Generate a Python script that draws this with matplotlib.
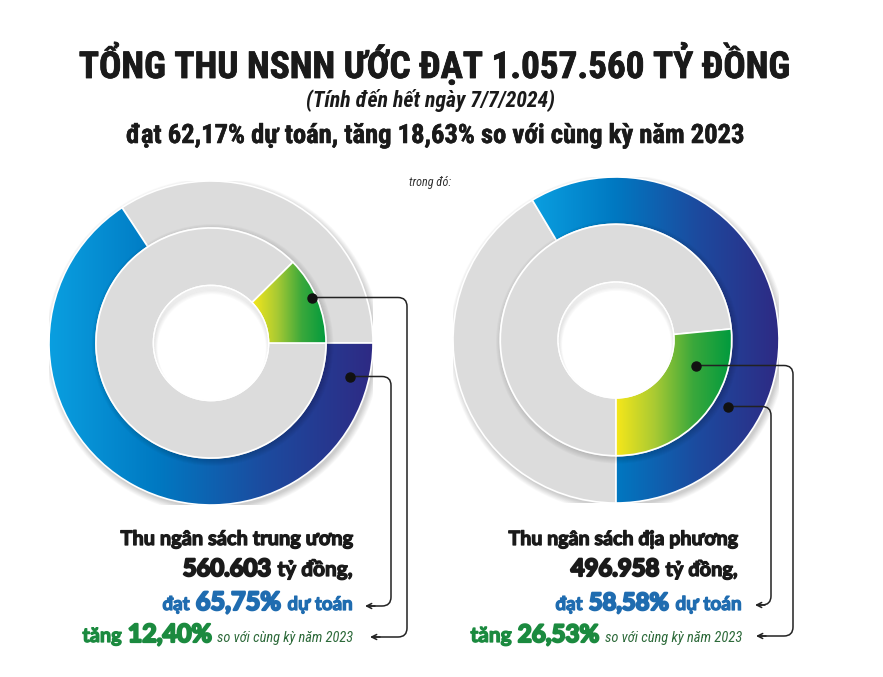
import numpy as np
import matplotlib
matplotlib.use("Agg")
import matplotlib.pyplot as plt
from matplotlib import font_manager
from matplotlib import patheffects as pe
from matplotlib.colors import LinearSegmentedColormap
from matplotlib.patches import Circle, Wedge
from matplotlib.path import Path
from matplotlib.patches import PathPatch

# ---------------- data ----------------
title = "TỔNG THU NSNN ƯỚC ĐẠT 1.057.560 TỶ ĐỒNG"
subtitle = "(Tính đến hết ngày 7/7/2024)"
summary = "đạt 62,17% dự toán, tăng 18,63% so với cùng kỳ năm 2023"
note = "trong đó:"

names = ["Thu ngân sách trung ương", "Thu ngân sách địa phương"]
amounts = ["560.603", "496.958"]
pct_plan = [65.75, 58.58]      # % of estimate (outer ring)
pct_growth = [12.40, 26.53]    # % growth vs 2023 (inner ring)

def vn(x):
    return f"{x:.2f}".replace(".", ",") + "%"

# ---------------- fonts ----------------
def pick(cands):
    for c in cands:
        try:
            font_manager.findfont(font_manager.FontProperties(family=c), fallback_to_default=False)
            return c
        except Exception:
            pass
    return "DejaVu Sans"

COND = pick(["Liberation Sans Narrow", "Roboto Condensed", "Open Sans Condensed", "Roboto", "Liberation Sans"])
ROUND = pick(["Lato", "Open Sans", "Noto Sans"])

W, H = 883, 677
fig = plt.figure(figsize=(W / 100, H / 100), dpi=100)
fig.patch.set_facecolor("white")

GRAY = "#dcdcdc"
blue_cmap = LinearSegmentedColormap.from_list("b", ["#0a9fe0", "#0079c2", "#1c4b9f", "#2e2a84"])
green_cmap = LinearSegmentedColormap.from_list("g", ["#f6e71a", "#a9ca33", "#3aa83b", "#009a3e"])

R_OUT, R_MID, R_HOLE = 1.0, 0.71, 0.355

def grad_fill(ax, wedge, cmap, z):
    ext = wedge.get_path().get_extents()
    grad = np.linspace(0, 1, 256).reshape(1, -1)
    im = ax.imshow(grad, cmap=cmap, extent=[ext.x0, ext.x1, ext.y0, ext.y1],
                   aspect="auto", zorder=z, interpolation="bilinear")
    im.set_clip_path(wedge)
    wedge.set_facecolor("none")
    wedge.set_zorder(z + 0.1)

def donut(cx, cy, r, plan, growth, start_out, cw_out, start_in):
    ax = fig.add_axes([(cx - r) / W, 1 - (cy + r) / H, 2 * r / W, 2 * r / H])
    ax.set_xlim(-1.0, 1.0)
    ax.set_ylim(-1.0, 1.0)
    ax.axis("off")
    # soft drop shadow behind outer ring
    for i in range(10):
        ax.add_patch(Circle((0.012, -0.018), R_OUT + 0.004 * i, color="black",
                            alpha=0.018, lw=0, zorder=0))
    wo, _ = ax.pie([plan, 100 - plan], radius=R_OUT, startangle=start_out,
                   counterclock=not cw_out, colors=["#0079c2", GRAY],
                   wedgeprops=dict(width=R_OUT - R_MID, edgecolor="white", linewidth=1.2))
    for w in wo:
        w.set_zorder(1)
    grad_fill(ax, wo[0], blue_cmap, 1)
    # shadow of inner ring on outer ring
    for i in range(7):
        ax.add_patch(Wedge((0.01, -0.012), R_MID + 0.006 * i, 0, 360, width=0.006 * i + 0.02,
                           color="black", alpha=0.025, lw=0, zorder=2))
    wi, _ = ax.pie([growth, 100 - growth], radius=R_MID, startangle=start_in,
                   counterclock=True, colors=["#3aa83b", GRAY],
                   wedgeprops=dict(width=R_MID - R_HOLE, edgecolor="white", linewidth=1.2))
    for w in wi:
        w.set_zorder(3)
    grad_fill(ax, wi[0], green_cmap, 3)
    # white hole with faint inner shadow
    hole = Circle((0, 0), R_HOLE, facecolor="white", edgecolor="white", lw=1.2, zorder=4)
    ax.add_patch(hole)
    clip = Circle((0, 0), R_HOLE - 0.004, transform=ax.transData)
    for i in range(8):
        sh = Circle((0.004, -0.012 - 0.003 * i), R_HOLE + 0.02 - 0.004 * i, facecolor="none",
                    edgecolor="black", lw=3.0, alpha=0.02, zorder=4.5)
        ax.add_patch(sh)
        sh.set_clip_path(clip)
    ax.set_xlim(-1.0, 1.0)
    ax.set_ylim(-1.0, 1.0)
    ax.set_aspect("auto")
    return ax

donut(211, 343, 162, pct_plan[0], pct_growth[0], 0, True, 0)
donut(616, 340, 163, pct_plan[1], pct_growth[1], -90, False, -90)

# ---------------- overlay (pixel coordinates) ----------------
ov = fig.add_axes([0, 0, 1, 1], zorder=10)
ov.set_xlim(0, W)
ov.set_ylim(H, 0)
ov.axis("off")
ov.patch.set_alpha(0)

renderer = fig.canvas.get_renderer()

def fit(x, y, s, width, ha="center", stroke=0.0, **kw):
    t = ov.text(x, y, s, ha=ha, va="baseline", fontsize=20, **kw)
    bb = t.get_window_extent(renderer)
    t.set_fontsize(20 * (width - stroke) / bb.width)
    if stroke > 0:
        t.set_path_effects([pe.withStroke(linewidth=stroke, foreground=t.get_color())])
    return t

BLACK = "#1a1a1a"
BLUE = "#1f6cb0"
GREEN = "#1b8a3f"

fit(435, 78, title, 712, family=COND, weight="bold", color=BLACK, stroke=0.6)
fit(431, 107, subtitle, 249, family=COND, style="italic", weight="bold", color=BLACK)
fit(436, 143, summary, 619, family=COND, weight="bold", color=BLACK, stroke=0.4)
fit(430, 186, note, 42, family=COND, style="italic", color="#333333")

def line_parts(parts, y):
    for s, x0, x1, kw in parts:
        fit(x0 + kw.get("stroke", 0) / 2, y, s, x1 - x0, ha="left", **kw)

def B(color, st=1.0):
    return dict(family=ROUND, weight="bold", color=color, stroke=st)

ital = dict(family=COND, style="italic")

# left block
line_parts([(names[0], 120, 353, B(BLACK, 0.9))], 545)
line_parts([(amounts[0], 182, 272, B(BLACK, 1.6)),
            ("tỷ đồng,", 277, 353, B(BLACK, 0.9))], 576)
line_parts([("đạt", 162, 190, B(BLUE, 0.9)),
            (vn(pct_plan[0]), 195, 282, B(BLUE, 1.6)),
            ("dự toán", 287, 353, B(BLUE, 0.9))], 610)
line_parts([("tăng", 82, 122, B(GREEN, 0.9)),
            (vn(pct_growth[0]), 127, 213, B(GREEN, 1.6)),
            ("so với cùng kỳ năm 2023", 217, 353, dict(color="#2d6a3a", **ital))], 642)

# right block
line_parts([(names[1], 508, 738, B(BLACK, 0.9))], 545)
line_parts([(amounts[1], 570, 660, B(BLACK, 1.6)),
            ("tỷ đồng,", 665, 738, B(BLACK, 0.9))], 576)
line_parts([("đạt", 555, 583, B(BLUE, 0.9)),
            (vn(pct_plan[1]), 588, 670, B(BLUE, 1.6)),
            ("dự toán", 675, 742, B(BLUE, 0.9))], 610)
line_parts([("tăng", 470, 512, B(GREEN, 0.9)),
            (vn(pct_growth[1]), 517, 600, B(GREEN, 1.6)),
            ("so với cùng kỳ năm 2023", 605, 742, dict(color="#2d6a3a", **ital))], 642)

# ---------------- leader lines ----------------
def leader(p0, xv, y2, xtip, rc=9):
    x0, y0 = p0
    verts = [(x0, y0), (xv - rc, y0), (xv, y0), (xv, y0 + rc),
             (xv, y2 - rc), (xv, y2), (xv - rc, y2), (xtip + 4, y2)]
    codes = [Path.MOVETO, Path.LINETO, Path.CURVE3, Path.CURVE3,
             Path.LINETO, Path.CURVE3, Path.CURVE3, Path.LINETO]
    ov.add_patch(PathPatch(Path(verts, codes), fill=False, lw=1.1, ec="#222222"))
    ov.annotate("", xy=(xtip, y2), xytext=(xtip + 10, y2),
                arrowprops=dict(arrowstyle="->", lw=1.1, color="#222222", mutation_scale=9,
                                shrinkA=0, shrinkB=0))
    ov.plot([x0], [y0], "o", ms=6.5, color="#111111")

leader((311.5, 297.5), 407, 637, 370)
leader((350, 376.5), 391, 606, 365)
leader((696, 365.5), 793, 636, 756)
leader((728, 406.5), 771, 605, 755)

fig.savefig("out.png", dpi=100, facecolor="white")
